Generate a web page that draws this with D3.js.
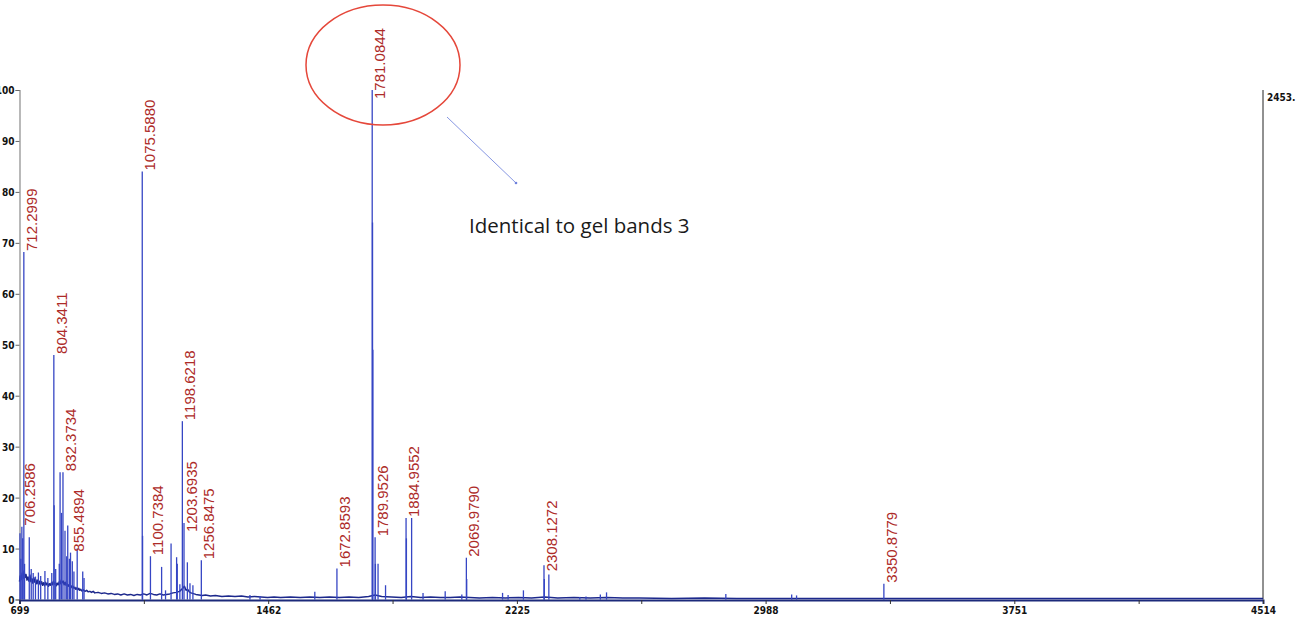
<!DOCTYPE html>
<html>
<head>
<meta charset="utf-8">
<script src="https://cdn.jsdelivr.net/npm/d3@7"></script>
<style>
  html, body { margin: 0; padding: 0; background: #ffffff; }
  svg { display: block; }
  .tick-label { font-family: 'Liberation Sans Narrow', 'DejaVu Sans Condensed', sans-serif; font-weight: bold; font-size: 10px; fill: #111; }
  .peak-label { font-family: 'Liberation Sans', Arial, sans-serif; font-size: 15px; fill: #ad2b28; }
  .note { font-family: 'Open Sans', 'Noto Sans', sans-serif; font-size: 20.5px; fill: #1a1a1a; }
</style>
</head>
<body>
<svg id="chart" width="1304" height="619"></svg>
<script>
// ---- axis ticks ----
const xTickValues = [699, 1462, 2225, 2988, 3751, 4514];
const xMinorTicks = [699, 1080.5, 1462, 1843.5, 2225, 2606.5, 2988, 3369.5, 3751, 4132.5, 4514];
const yTickValues = [0, 10, 20, 30, 40, 50, 60, 70, 80, 90, 100];
const baseIntensityText = "2453.";

// ---- annotated peaks (m/z, % intensity) ----
const labeledMz = [706.2586, 712.2999, 804.3411, 832.3734, 855.4894, 1075.5880, 1100.7384,
  1198.6218, 1203.6935, 1256.8475, 1672.8593, 1781.0844, 1789.9526, 1884.9552,
  2069.9790, 2308.1272, 3350.8779];
const labeledIntensity = [14.3, 68.2, 48, 25, 9.2, 84, 8.5,
  35, 15, 7.7, 6.1, 100, 12.2, 16,
  8.2, 6.7, 3.1];

// ---- unlabelled peaks (m/z, % intensity) ----
const minorMz = [700.5, 703, 708.8, 714.5, 729, 735, 741, 748, 757, 764, 777, 786, 798,
  805.3, 810, 821, 823.5, 828, 838.6, 843.8, 847, 852, 861, 866, 876, 893, 897,
  1076.6, 1135, 1147, 1164, 1181, 1183, 1191, 1214, 1222, 1231, 1406, 1437, 1605,
  1782.08, 1783.08, 1790.9, 1799, 1822, 1886, 1902, 1937, 2005, 2056, 2071,
  2181, 2198, 2245, 2309.1, 2323, 2418, 2437, 2481, 2500, 2866, 3068, 3083];
const minorIntensity = [13, 8, 12, 7, 12.2, 6, 5.2, 4.5, 5.3, 4.6, 5.6, 4.2, 5.2,
  18.5, 6, 7, 25, 17, 13.5, 8.5, 14.5, 8, 7.5, 5.5, 10, 5.5, 4.2,
  12.5, 6.4, 1.8, 11, 8.3, 7, 3, 7.3, 3.2, 2.8, 0.9, 0.7, 1.5,
  74, 49, 7, 7, 2.8, 12, 16, 1.3, 1.6, 1, 4,
  1.3, 0.9, 1.8, 4, 4.9, 0.5, 0.6, 1, 1.4, 1.1, 1.0, 0.8];

// ---- baseline trace (m/z, % intensity) ----
const baselineMz = [699, 701, 704, 707, 710, 713, 716, 719, 722, 725, 728, 731, 734, 737, 740,
  743, 746, 749, 752, 755, 758, 761, 764, 767, 770, 773, 776, 779, 782, 785, 788, 791, 794,
  797, 800, 803, 806, 809, 812, 815, 818, 821, 824, 827, 830, 833, 836, 839, 842, 845, 848,
  851, 854, 857, 860, 863, 866, 869, 872, 875, 878, 881, 884, 887, 890, 895, 900, 905, 910,
  915, 920, 925, 930, 940, 950, 960, 970, 980, 990, 1000, 1010, 1020, 1030, 1040, 1050,
  1060, 1070, 1080, 1090, 1100, 1110, 1120, 1130, 1140, 1150, 1160, 1170, 1180, 1190,
  1200, 1205, 1210, 1215, 1220, 1225, 1230, 1240, 1250, 1260, 1270, 1285, 1300, 1320,
  1340, 1360, 1380, 1400, 1420, 1440, 1460, 1480, 1500, 1530, 1560, 1590, 1620, 1650,
  1680, 1710, 1740, 1770, 1790, 1810, 1840, 1870, 1900, 1930, 1960, 1990, 2020, 2050,
  2080, 2110, 2150, 2190, 2230, 2270, 2310, 2350, 2400, 2450, 2500, 2550, 2600, 2700,
  2800, 2900, 3000, 3200, 3400, 3600, 3800, 4000, 4200, 4400, 4514];
const baselineIntensity = [3.5, 4.6, 3.9, 5.2, 4.1, 5.6, 4.3, 4.9, 3.8, 4.4, 3.6, 4.8, 3.5, 4.1, 3.2,
  4.3, 3.4, 3.9, 3.1, 3.8, 2.9, 3.6, 3.0, 3.5, 2.8, 3.3, 2.7, 3.4, 2.9, 3.2, 2.6, 3.1, 2.8,
  3.3, 2.9, 3.6, 3.0, 3.4, 2.7, 3.2, 2.9, 3.5, 3.1, 3.8, 3.3, 3.6, 2.9, 3.4, 2.8, 3.1, 2.6,
  2.9, 2.4, 2.7, 2.3, 2.6, 2.2, 2.4, 2.0, 2.3, 1.9, 2.2, 1.8, 2.0, 1.7, 1.9, 1.6, 1.8, 1.5,
  1.6, 1.4, 1.6, 1.3, 1.4, 1.2, 1.3, 1.1, 1.2, 1.0, 1.1, 0.9, 1.1, 0.9, 1.0, 0.8,
  1.0, 0.9, 1.1, 0.9, 1.2, 1.0, 0.9, 1.1, 0.9, 1.0, 1.1, 1.3, 1.4, 1.6,
  2.2, 2.6, 1.8, 2.0, 1.5, 1.3, 1.2, 1.0, 0.9, 0.8, 0.9, 0.7, 0.8, 0.6,
  0.7, 0.6, 0.7, 0.5, 0.6, 0.5, 0.4, 0.5, 0.4, 0.5, 0.4, 0.5, 0.4, 0.5,
  0.4, 0.5, 0.4, 0.6, 0.9, 0.6, 0.5, 0.4, 0.6, 0.4, 0.5, 0.4, 0.4, 0.5,
  0.4, 0.3, 0.4, 0.3, 0.4, 0.3, 0.5, 0.3, 0.4, 0.3, 0.4, 0.3, 0.3, 0.2,
  0.3, 0.2, 0.2, 0.2, 0.2, 0.2, 0.2, 0.2, 0.2, 0.2, 0.2];

const annotationText = "Identical to gel bands 3";

// ---- drawing ----
const svg = d3.select("#chart");
const x = d3.scaleLinear().domain([699, 4514]).range([19.5, 1263]);
const y = d3.scaleLinear().domain([0, 100]).range([599.5, 90]);

// label nudges (px) where the instrument software shifted the text
const labelShift = { "1781.0844": -10, "1203.6935": -10, "2308.1272": -7 };

// left axis
const yAxis = d3.axisLeft(y).tickValues(yTickValues).tickSize(4).tickPadding(1).tickFormat(d3.format("d"));
const gy = svg.append("g").attr("transform", `translate(${x(699)},0)`).call(yAxis);
gy.select(".domain").attr("stroke", "#8a8a8a").attr("stroke-width", 1.2);
gy.selectAll(".tick line").attr("stroke", "#666");
gy.selectAll(".tick text").attr("class", "tick-label").attr("dy", "0.35em");

// right axis line and base intensity
svg.append("line")
  .attr("x1", x(4514)).attr("x2", x(4514))
  .attr("y1", y(100)).attr("y2", y(0))
  .attr("stroke", "#222").attr("stroke-width", 1);
svg.append("text").attr("class", "tick-label")
  .attr("x", x(4514) + 4).attr("y", y(100) + 11)
  .text(baseIntensityText);

// baseline trace
const line = d3.line().x(d => x(d[0])).y(d => y(d[1]));
svg.append("path")
  .datum(d3.zip(baselineMz, baselineIntensity))
  .attr("d", line)
  .attr("fill", "none")
  .attr("stroke", "#1c288c")
  .attr("stroke-width", 1.5)
  .attr("stroke-linejoin", "round");

// peak sticks
const allPeaks = d3.zip(minorMz, minorIntensity).concat(d3.zip(labeledMz, labeledIntensity));
svg.append("g").selectAll("line")
  .data(allPeaks)
  .join("line")
  .attr("x1", d => x(d[0])).attr("x2", d => x(d[0]))
  .attr("y1", y(0)).attr("y2", d => y(d[1]))
  .attr("stroke", "#3646c4")
  .attr("stroke-width", 1.3);

// bottom axis
const xAxis = d3.axisBottom(x).tickValues(xMinorTicks).tickSize(4).tickPadding(3)
  .tickFormat(d => xTickValues.includes(d) ? d3.format("d")(d) : "");
const gx = svg.append("g").attr("transform", `translate(0,${y(0) + 0.5})`).call(xAxis);
gx.select(".domain").attr("stroke", "#1c2a7a").attr("stroke-width", 2);
gx.selectAll(".tick line").attr("stroke", "#333");
gx.selectAll(".tick text").attr("class", "tick-label");

// peak labels
const labelData = d3.zip(labeledMz, labeledIntensity);
svg.append("g").selectAll("text")
  .data(labelData)
  .join("text")
  .attr("class", "peak-label")
  .attr("transform", d => {
    const key = d[0].toFixed(4);
    const shift = labelShift[key] || 0;
    return `translate(${x(d[0]) + 13},${y(d[1]) - 1 - shift}) rotate(-90)`;
  })
  .text(d => d[0].toFixed(4));

// callout
svg.append("ellipse")
  .attr("cx", 383).attr("cy", 65).attr("rx", 77).attr("ry", 60)
  .attr("fill", "none").attr("stroke", "#e5473a").attr("stroke-width", 1.5);
svg.append("line")
  .attr("x1", 447).attr("y1", 117).attr("x2", 516).attr("y2", 183)
  .attr("stroke", "#8797e2").attr("stroke-width", 1);
svg.append("circle").attr("cx", 516).attr("cy", 183).attr("r", 1.3).attr("fill", "#6f82dc");
svg.append("text").attr("class", "note")
  .attr("x", 469).attr("y", 233)
  .text(annotationText);
</script>
</body>
</html>
